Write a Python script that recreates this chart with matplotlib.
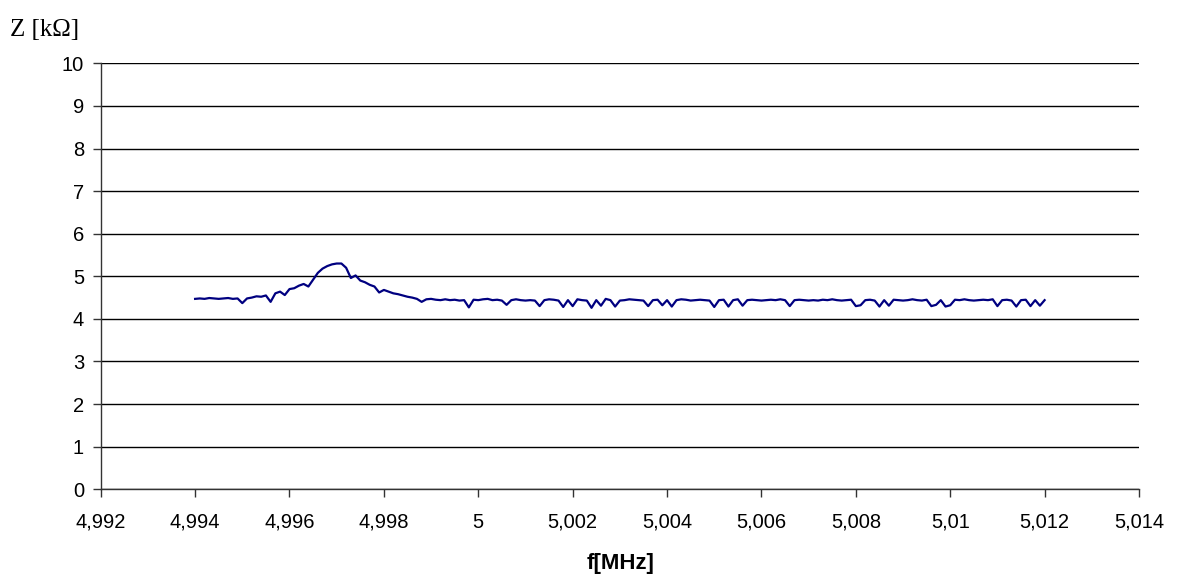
import numpy as np
import matplotlib
matplotlib.use("Agg")
import matplotlib.pyplot as plt
from matplotlib.ticker import FuncFormatter, MultipleLocator

# sweep: 4.994 .. 5.012 MHz, 0.0001 MHz step
F_START = 4.994
F_STOP = 5.012

# impedance readings [kOhm]
z_kohm = [
    4.47, 4.48, 4.47, 4.49, 4.48, 4.47, 4.48, 4.49, 4.47, 4.48,
    4.37, 4.48, 4.50, 4.53, 4.52, 4.55, 4.40, 4.60, 4.64, 4.56,
    4.70, 4.72, 4.78, 4.82, 4.76, 4.92, 5.08, 5.18, 5.24, 5.28,
    5.30, 5.30, 5.20, 4.96, 5.02, 4.90, 4.86, 4.80, 4.76, 4.62,
    4.68, 4.64, 4.60, 4.58, 4.55, 4.52, 4.50, 4.47, 4.40, 4.46,
    4.47,
    4.45, 4.44, 4.46, 4.44, 4.45, 4.43, 4.44, 4.27, 4.45, 4.44,
    4.46, 4.47, 4.44, 4.45, 4.43, 4.33, 4.44, 4.46, 4.44, 4.43,
    4.44, 4.43, 4.30, 4.44, 4.46, 4.45, 4.43, 4.28, 4.44, 4.30,
    4.46, 4.44, 4.43, 4.26, 4.44, 4.31, 4.47, 4.44, 4.29, 4.43,
    4.44, 4.46, 4.45, 4.44, 4.43, 4.30, 4.44, 4.45, 4.32, 4.44,
    4.29, 4.44, 4.46, 4.45, 4.43, 4.44, 4.45, 4.44, 4.43, 4.28,
    4.44, 4.45, 4.29, 4.44, 4.46, 4.31, 4.44, 4.45, 4.44, 4.43,
    4.44, 4.45, 4.44, 4.46, 4.44, 4.30, 4.44, 4.45, 4.44, 4.43,
    4.44, 4.43, 4.45, 4.44, 4.46, 4.44, 4.43, 4.44, 4.45, 4.30,
    4.32, 4.44, 4.45, 4.43, 4.29, 4.44, 4.31, 4.45, 4.44, 4.43,
    4.44, 4.46, 4.44, 4.43, 4.45, 4.30, 4.33, 4.44, 4.29, 4.32,
    4.45, 4.44, 4.46, 4.44, 4.43, 4.44, 4.45, 4.44, 4.46, 4.30,
    4.44, 4.45, 4.43, 4.29, 4.44, 4.45, 4.30, 4.44, 4.31, 4.44,
]

freq = np.linspace(F_START, F_STOP, len(z_kohm))


def comma_label(v, _pos=None):
    s = f"{v:.3f}".rstrip("0").rstrip(".")
    return s.replace(".", ",")


fig = plt.figure(figsize=(11.78, 5.74), dpi=100)
ax = fig.add_axes([0.0855, 0.1476, 0.8814, 0.7421])

ax.plot(freq, z_kohm, color="#000080", lw=1.6, zorder=3)

ax.set_xlim(4.992, 5.014)
ax.set_ylim(0, 10)
ax.xaxis.set_major_locator(MultipleLocator(0.002))
ax.yaxis.set_major_locator(MultipleLocator(1))
ax.xaxis.set_major_formatter(FuncFormatter(comma_label))

ax.grid(axis="y", color="black", lw=1.0)
ax.set_axisbelow(True)
for side in ("top", "right"):
    ax.spines[side].set_visible(False)
for side in ("left", "bottom"):
    ax.spines[side].set_color("#333333")
    ax.spines[side].set_linewidth(1.0)

ax.tick_params(direction="out", length=6, width=1.0, color="#333333",
               labelsize=14.5, pad=6)
for lbl in ax.get_xticklabels() + ax.get_yticklabels():
    lbl.set_family("Liberation Sans")
ax.tick_params(axis="x", pad=11)

fig.text(0.5265, 1 - 564 / 574, "f[MHz]", ha="center", va="center",
         fontsize=16, fontweight="bold", family="Liberation Sans")
fig.text(10 / 1178, 1 - 30 / 574, "Z [k\u03a9]", ha="left", va="center",
         fontsize=18, family="Liberation Serif")

fig.savefig("out.png", dpi=100)
